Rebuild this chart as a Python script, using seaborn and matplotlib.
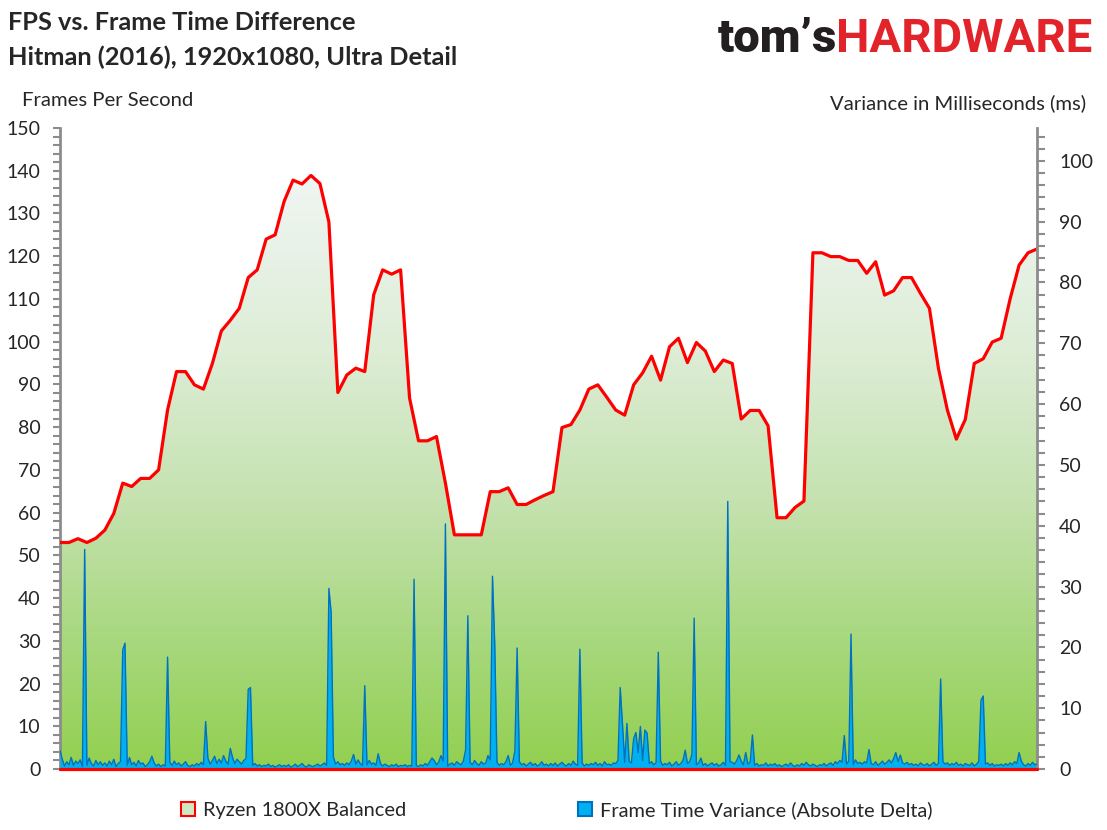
import numpy as np
import pandas as pd
import matplotlib
matplotlib.use("Agg")
import matplotlib.pyplot as plt
from matplotlib.patches import Patch, Polygon
from matplotlib.colors import LinearSegmentedColormap
import seaborn as sns

# FPS por segundo (Ryzen 1800X Balanced)
fps_values = [
    53, 53, 53.9, 53, 54, 55.9, 59.8, 66.9, 66.1, 68,
    68, 70, 84, 93, 93, 89.9, 88.9, 94.9, 102.5, 105,
    107.8, 115, 116.8, 124, 125, 132.8, 137.8, 136.9, 138.9, 137,
    128, 88.1, 92.2, 93.8, 93, 111, 116.8, 115.8, 116.8, 86.8,
    76.8, 76.8, 77.8, 66.9, 54.8, 54.8, 54.8, 54.8, 64.9, 64.9,
    65.8, 61.9, 61.9, 63, 64, 64.9, 79.9, 80.6, 84, 88.9,
    89.9, 87, 84, 82.8, 89.9, 92.7, 96.6, 91, 98.8, 100.8,
    95.1, 99.8, 97.8, 93, 95.7, 94.9, 81.9, 83.9, 83.9, 80.3,
    58.8, 58.8, 61.2, 62.7, 120.8, 120.8, 119.9, 119.9, 119, 119,
    116, 118.7, 110.9, 111.9, 115, 115, 111.3, 107.8, 93.8, 84,
    77.2, 81.8, 94.9, 96, 99.9, 100.8, 110, 117.9, 120.8, 121.7,
]

# variancia de base (ms), amostras a cada 0.25 s
variance_base = [
    0.8, 1.6, 0.5, 1.2, 0.7, 1.9, 0.6, 1.3, 0.9, 1.5, 0.4, 1.1, 0.6, 1.8, 0.9, 0.5, 1.4, 0.7, 1.2, 0.6,
    1.0, 0.5, 1.3, 0.7, 1.6, 0.4, 0.9, 1.2, 0.8, 1.5, 0.6, 1.9, 0.7, 1.1, 0.5, 1.4, 0.8, 1.0, 0.4, 0.7,
    1.2, 0.6, 1.0, 0.5, 0.8, 0.4, 0.7, 0.5, 0.9, 1.1, 0.6, 1.3, 0.7, 1.0, 0.5, 0.8, 1.2, 0.6, 0.4, 0.7,
    0.5, 0.9, 0.6, 1.1, 0.7, 0.9, 1.8, 0.8, 1.4, 2.1, 0.9, 1.6, 1.0, 2.2, 1.3, 0.8, 1.5, 1.9, 0.9, 1.6,
    1.2, 0.8, 1.4, 1.7, 0.9, 1.0, 0.6, 0.9, 0.5, 0.7, 0.4, 0.6, 0.5, 0.8, 0.4, 0.6, 0.3, 0.5, 0.7, 0.4,
    0.6, 0.4, 0.7, 0.3, 0.5, 0.8, 0.4, 0.6, 0.9, 0.5, 0.3, 0.7, 0.5, 0.4, 0.6, 0.8, 0.5, 0.7, 1.0, 0.6,
    1.1, 0.9, 1.4, 0.8, 1.2, 0.7, 0.9, 0.6, 1.0, 0.7, 1.3, 1.1, 0.8, 1.5, 0.9, 0.6, 1.2, 0.7, 1.4, 0.8,
    1.0, 0.6, 1.3, 0.9, 0.5, 0.8, 0.6, 0.4, 0.7, 0.5, 0.8, 0.4, 0.6, 0.5, 0.7, 0.4, 0.6, 0.5, 0.8, 0.6,
    0.4, 0.7, 0.5, 0.9, 0.6, 1.2, 0.8, 1.4, 0.7, 1.1, 0.9, 1.3, 0.6, 0.5, 0.8, 1.0, 0.6, 1.2, 0.9, 0.7,
    1.3, 0.8, 1.0, 1.1, 0.7, 1.4, 0.9, 0.6, 1.2, 0.8, 1.0, 0.7, 1.5, 0.9, 0.8, 1.1, 0.6, 0.9, 0.7, 1.2,
    0.8, 0.6, 1.0, 0.9, 0.5, 1.2, 0.7, 0.9, 0.5, 0.8, 1.1, 0.6, 0.9, 0.5, 0.7, 1.2, 0.6, 0.8, 0.5, 0.9,
    0.6, 1.0, 0.5, 0.8, 1.1, 0.7, 0.5, 0.9, 0.6, 1.3, 0.8, 0.6, 0.9, 1.0, 0.5, 0.8, 0.6, 0.9, 0.7, 1.1,
    0.6, 0.9, 0.5, 1.2, 0.7, 0.8, 0.6, 1.0, 0.9, 1.4, 1.2, 1.6, 1.1, 1.8, 1.3, 1.0, 1.5, 1.2, 1.7, 1.3,
    1.4, 1.1, 1.6, 0.9, 1.2, 0.7, 1.0, 0.8, 1.3, 0.6, 0.9, 0.7, 1.1, 0.5, 0.8, 1.2, 0.6, 0.9, 1.4, 1.0,
    0.9, 1.2, 0.8, 1.3, 0.7, 1.0, 1.1, 0.6, 0.9, 0.5, 0.8, 1.0, 0.6, 0.9, 0.5, 0.7, 1.1, 0.6, 1.0, 1.2,
    1.1, 0.8, 1.4, 0.9, 1.3, 0.7, 1.5, 0.8, 1.1, 1.0, 0.6, 0.9, 0.5, 0.7, 0.6, 1.0, 0.5, 0.8, 0.6, 0.9,
    0.5, 0.7, 0.4, 0.6, 0.8, 0.5, 1.0, 0.6, 0.4, 0.7, 0.5, 0.9, 0.6, 1.1, 0.7, 0.5, 0.8, 0.6, 0.4, 0.7,
    0.6, 0.9, 0.5, 0.8, 1.0, 0.6, 1.2, 0.9, 1.4, 1.1, 1.6, 0.8, 1.3, 1.0, 0.7, 1.5, 0.9, 1.1, 0.8, 1.2,
    1.0, 1.4, 0.9, 0.7, 1.2, 0.6, 0.9, 1.3, 0.8, 1.1, 1.5, 1.0, 1.7, 1.4, 1.2, 1.6, 1.0, 0.8, 1.1, 0.7,
    0.9, 0.6, 0.8, 0.5, 1.0, 0.7, 0.6, 0.9, 0.5, 0.8, 1.1, 0.6, 0.9, 0.7, 1.2, 0.8, 1.0, 0.6, 0.9, 0.7,
    1.1, 0.6, 0.8, 0.5, 0.9, 0.7, 0.6, 1.0, 0.5, 0.8, 1.2, 0.9, 1.3, 0.8, 1.0, 0.6, 0.9, 0.5, 0.7, 0.6,
    0.8, 0.5, 0.9, 0.6, 1.0, 0.7, 1.2, 0.9, 0.8, 1.3, 0.7, 0.5, 0.9, 0.6, 1.1, 0.7, 0.8,
]

# picos de variancia: tempo (s) e valor (ms)
spike_seconds = [
    0.0, 2.79, 6.96, 7.18, 10.13, 11.92, 16.35, 19.07, 20.93, 21.15,
    29.98, 30.20, 30.54, 32.85, 34.11, 35.42, 39.47, 41.49, 42.54, 43.05,
    45.33, 45.51, 47.85, 48.30, 48.53, 50.06, 50.84, 51.03, 57.91, 62.46,
    62.68, 63.27, 64.06, 64.28, 64.61, 64.84, 65.17, 65.40, 66.63, 69.83,
    70.50, 70.87, 71.59, 74.56, 75.87, 76.39, 77.24, 87.60, 88.35, 90.31,
    93.26, 93.74, 98.18, 102.83, 103.05, 106.89,
]
spike_ms = [
    3.0, 36.1, 19.6, 20.7, 2.1, 18.4, 7.8, 3.4, 13.1, 13.4,
    29.7, 25.8, 2.0, 2.4, 13.7, 2.5, 31.2, 1.8, 2.2, 40.3,
    3.1, 25.2, 2.2, 31.7, 20.7, 2.2, 3.0, 19.9, 19.7, 13.4,
    7.5, 7.5, 5.0, 6.0, 2.7, 7.0, 6.4, 5.9, 19.2, 3.1,
    2.4, 24.8, 1.8, 44.0, 2.3, 2.7, 5.6, 5.5, 22.2, 3.2,
    2.7, 2.3, 14.8, 11.3, 12.0, 2.7,
]

fps_step = 1.0
var_step = 0.25

df_fps = pd.DataFrame({'Segundo': np.arange(len(fps_values)) * fps_step, 'FPS': fps_values})

var = np.array(variance_base, dtype=float)
idx = np.round(np.array(spike_seconds) / var_step).astype(int)
var[idx] = np.maximum(var[idx], spike_ms)
df_var = pd.DataFrame({'Segundo': np.arange(len(var)) * var_step, 'ms': var})

sns.set_style('white')
plt.rcParams['font.family'] = ['Lato', 'DejaVu Sans']

fig = plt.figure(figsize=(11.07, 8.3), dpi=100)
ax = fig.add_axes([60 / 1107, 1 - 769 / 830, (1037 - 60) / 1107, (769 - 128) / 830])
ax2 = ax.twinx()

t_max = df_fps['Segundo'].max()
ax.set_xlim(0, t_max)
ax.set_ylim(0, 150)
ax2.set_ylim(0, 105.4)

# Area com gradiente sob a linha de FPS
grad_cmap = LinearSegmentedColormap.from_list('grad', [
    (0.0, '#92D050'), (0.2, '#A8D87E'), (0.42, '#C5E2B0'),
    (0.65, '#DDEDD6'), (1.0, '#F5F8FB')])
grad = np.linspace(0, 1, 256).reshape(-1, 1)
im = ax.imshow(grad, cmap=grad_cmap, origin='lower', aspect='auto',
               extent=[0, t_max, 0, 150], zorder=1)
verts = [(0, 0)] + list(zip(df_fps['Segundo'], df_fps['FPS'])) + [(t_max, 0)]
clip = Polygon(verts, closed=True, transform=ax.transData, facecolor='none', edgecolor='none')
ax.add_patch(clip)
im.set_clip_path(clip)

sns.lineplot(data=df_fps, x='Segundo', y='FPS', ax=ax, color='#FF0000', linewidth=2.3, zorder=3)

# Variancia (eixo secundario)
ax2.fill_between(df_var['Segundo'], df_var['ms'], 0, color='#00B0F0', linewidth=0, zorder=2)
sns.lineplot(data=df_var, x='Segundo', y='ms', ax=ax2, color='#0070C0', linewidth=1.0, zorder=3)
ax2.axhline(0, color='#FF0000', linewidth=2.3, zorder=4, clip_on=False)

# Eixos
grey = '#8C8C8C'
for a in (ax, ax2):
    for s in ['top', 'bottom', 'left', 'right']:
        a.spines[s].set_visible(False)
    a.set_xlabel('')
    a.set_ylabel('')
    a.set_xticks([])
ax.spines['left'].set_visible(True)
ax.spines['left'].set_color(grey)
ax.spines['left'].set_linewidth(2)
ax2.spines['right'].set_visible(True)
ax2.spines['right'].set_color(grey)
ax2.spines['right'].set_linewidth(2)

ax.set_yticks(np.arange(0, 151, 10))
ax.set_yticks(np.arange(0, 151, 2), minor=True)
ax2.set_yticks(np.arange(0, 101, 10))
ax2.set_yticks(np.arange(0, 105, 2), minor=True)
ax.tick_params(axis='y', which='both', direction='out', length=5, width=1.5, color=grey,
               labelsize=14, pad=9, left=True)
ax.tick_params(axis='y', which='minor', labelleft=False)
ax2.tick_params(axis='y', which='both', direction='out', length=6, width=1.5, color=grey,
                labelsize=14, pad=10, right=True)
ax2.tick_params(axis='y', which='minor', labelright=False)
ax.grid(False)
ax2.grid(False)

# Titulos e rotulos
fig.text(8 / 1107, 1 - 22 / 830, 'FPS vs. Frame Time Difference', fontsize=18.3, fontweight='bold',
         va='center', ha='left')
fig.text(8 / 1107, 1 - 57 / 830, 'Hitman (2016), 1920x1080, Ultra Detail', fontsize=18.3,
         fontweight='bold', va='center', ha='left')
fig.text(22 / 1107, 1 - 101 / 830, 'Frames Per Second', fontsize=14.6, va='center', ha='left')
fig.text(1086 / 1107, 1 - 103 / 830, 'Variance in Milliseconds (ms)', fontsize=14.6,
         va='center', ha='right')

# Logo
fig.text(718 / 1107, 1 - 52 / 830, 'tom\u2019s', fontsize=34, fontweight='heavy', color='#231F20',
         family='Roboto', va='baseline', ha='left')
fig.text(1092 / 1107, 1 - 52 / 830, 'HARDWARE', fontsize=34, fontweight='bold', color='#E2232A',
         family='Roboto', va='baseline', ha='right')

# Legenda
handles = [Patch(facecolor='#D0E8C0', edgecolor='#FF0000', linewidth=1.5, label='Ryzen 1800X Balanced'),
           Patch(facecolor='#00B0F0', edgecolor='#0070C0', linewidth=1.5,
                 label='Frame Time Variance (Absolute Delta)')]
fig.legend(handles=handles, loc='center', bbox_to_anchor=(0.503, 1 - 810 / 830), ncol=2,
           frameon=False, fontsize=14.4, columnspacing=8.6, handlelength=0.7, handleheight=0.7,
           handletextpad=0.4)

plt.savefig('out.png', dpi=100)
